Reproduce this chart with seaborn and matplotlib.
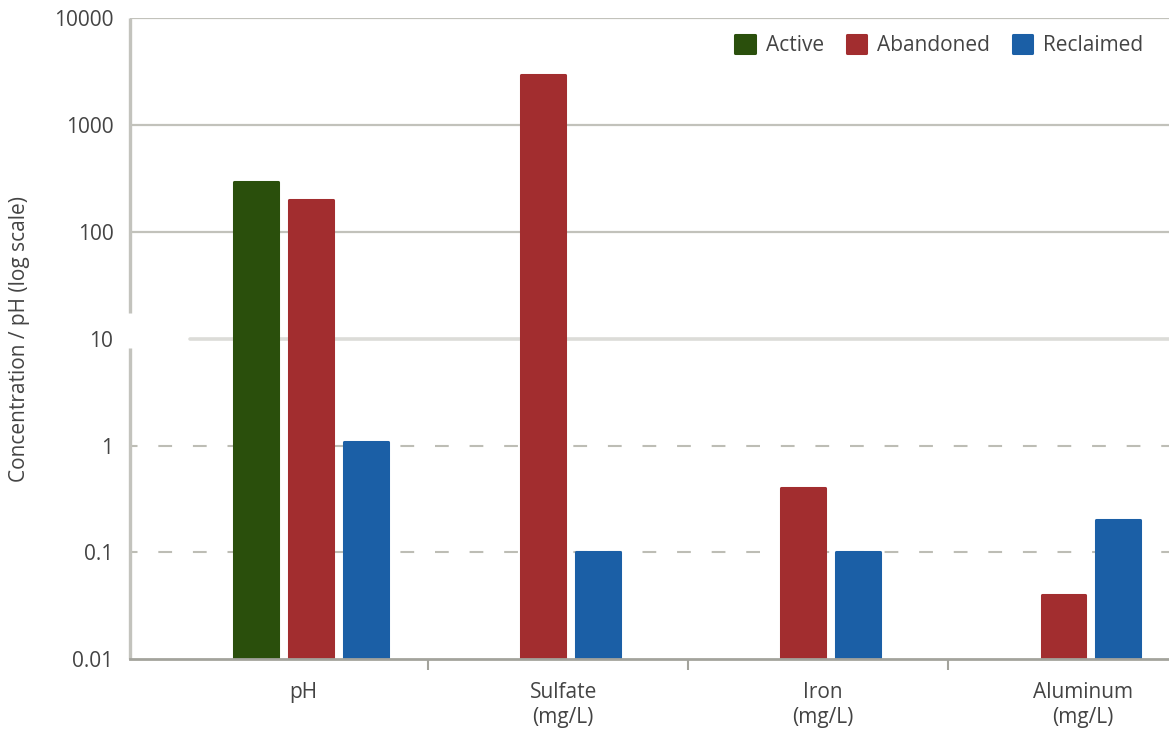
import numpy as np
import pandas as pd
import matplotlib
matplotlib.use("Agg")
import matplotlib.pyplot as plt
import seaborn as sns

# ---- data ----
categories = ["pH", "Sulfate\n(mg/L)", "Iron\n(mg/L)", "Aluminum\n(mg/L)"]
series = ["Active", "Abandoned", "Reclaimed"]
active = [295, np.nan, np.nan, np.nan]
abandoned = [200, 2950, 0.4, 0.04]
reclaimed = [1.08, 0.1, 0.1, 0.2]
ytick_values = [0.01, 0.1, 1, 10, 100, 1000, 10000]
ytick_labels = ["0.01", "0.1", "1", "10", "100", "1000", "10000"]
colors = {"Active": "#2a4f0c", "Abandoned": "#a22d2f", "Reclaimed": "#1b5fa6"}

sns.set_theme(style="white")
plt.rcParams["font.family"] = ["Open Sans", "DejaVu Sans"]
TEXT = "#444444"
FS = 15

# long table; present bars in each category are centred on the category
rows = []
slot = 0.2115
shift = 0.05
values = {"Active": active, "Abandoned": abandoned, "Reclaimed": reclaimed}
for i, cat in enumerate(categories):
    present = [s for s in series if not np.isnan(values[s][i])]
    n = len(present)
    for j, s in enumerate(present):
        rows.append({"category": cat, "series": s, "value": values[s][i],
                     "pos": i + shift + (j - (n - 1) / 2) * slot})
df = pd.DataFrame(rows)

fig = plt.figure(figsize=(11.69, 7.29), dpi=100)
ax = fig.add_axes([130 / 1169, (729 - 659.3) / 729, 1039 / 1169, 641 / 729])
ax.set_yscale("log")

sns.barplot(data=df, x="pos", y="value", hue="series", hue_order=series,
            palette=colors, saturation=1, native_scale=True, dodge=False,
            width=0.80, errorbar=None, ax=ax, zorder=3)
for p in ax.patches:
    p.set_edgecolor(p.get_facecolor())
    p.set_linewidth(2.2)
    p.set_joinstyle("round")

ax.set_ylim(0.01, 10000)
ax.set_xlim(-0.646, 3.35)

# grid lines
for v in [100, 1000, 10000]:
    ax.axhline(v, color="#c2c2bb", lw=1.6, zorder=1)
ax.axhline(10, xmin=0.0577, color="#dcdcd8", lw=2.6, zorder=1)
for v in [0.1, 1]:
    ax.axhline(v, color="#bdbdb5", lw=1.5, ls=(3, (6.6, 10)), zorder=1)

# spines
for s in ["top", "right", "left"]:
    ax.spines[s].set_visible(False)
ax.spines["bottom"].set_color("#a3a39c")
ax.spines["bottom"].set_linewidth(2)
ax.spines["bottom"].set_zorder(4)
for y0, y1 in [(0.540, 1.0), (0.0, 0.486)]:
    ax.plot([0, 0], [y0, y1], transform=ax.transAxes, color="#c3c3bd",
            lw=2.4, clip_on=False, solid_capstyle="butt", zorder=2)

# y ticks
ax.yaxis.set_major_locator(matplotlib.ticker.FixedLocator(ytick_values))
ax.yaxis.set_minor_locator(matplotlib.ticker.NullLocator())
ax.set_yticklabels(ytick_labels)
ax.tick_params(axis="y", length=0, pad=12, labelsize=FS, labelcolor=TEXT)

# x ticks
ax.set_xticks(np.arange(len(categories)) + 0.02)
ax.set_xticklabels(categories, linespacing=1.25)
ax.set_xticks([0.5, 1.5, 2.5], minor=True)
ax.tick_params(axis="x", which="major", length=0, pad=16, labelsize=FS, labelcolor=TEXT)
ax.tick_params(axis="x", which="minor", length=8, width=1.5, color="#a3a39c", bottom=True)
ax.set_xlabel("")
ax.set_ylabel("")
fig.text(20 / 1169, (729 - 339) / 729, "Concentration / pH (log scale)",
         rotation=90, ha="center", va="center", fontsize=FS, color=TEXT)

sns.move_legend(ax, "center right", bbox_to_anchor=(0.993, 0.958), ncol=3,
                frameon=False, title=None, fontsize=FS, handlelength=0.95,
                handleheight=0.95, handletextpad=0.5, columnspacing=1.1,
                labelcolor=TEXT)
leg = ax.get_legend()
for h in leg.legend_handles:
    h.set_edgecolor(h.get_facecolor())
    h.set_linewidth(2.2)
    h.set_joinstyle("round")

fig.savefig("out.png", dpi=100)
